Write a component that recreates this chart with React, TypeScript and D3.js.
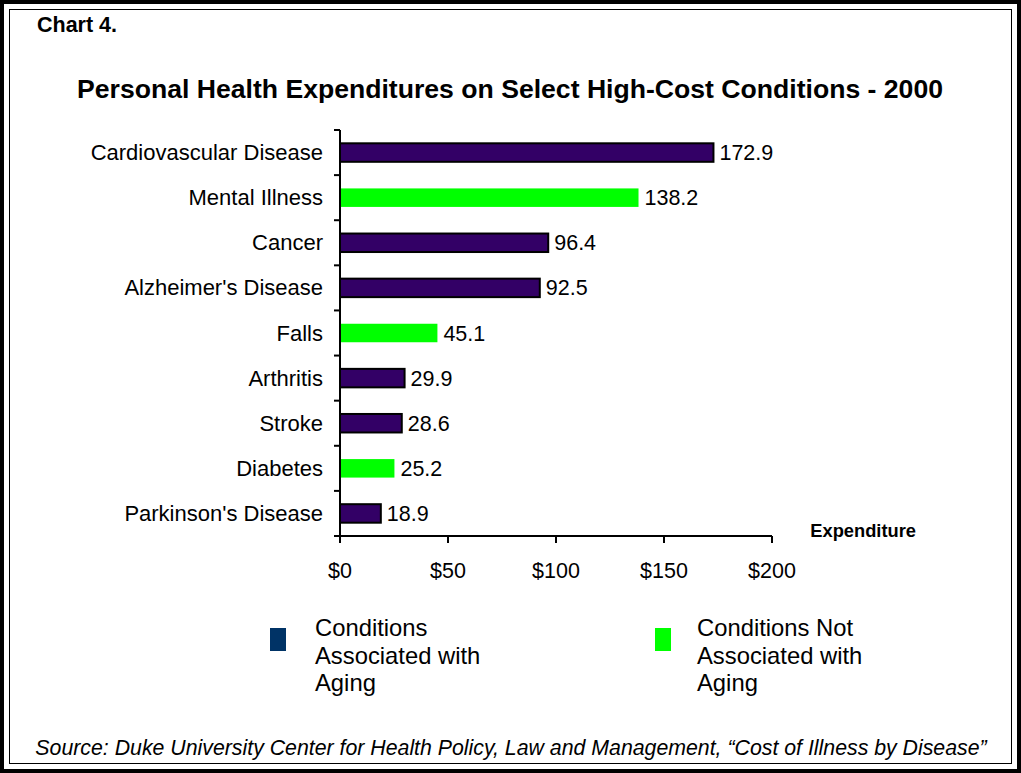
import React from "react";
import * as d3 from "d3";

const categories = [
  "Cardiovascular Disease",
  "Mental Illness",
  "Cancer",
  "Alzheimer's Disease",
  "Falls",
  "Arthritis",
  "Stroke",
  "Diabetes",
  "Parkinson's Disease",
];
const values = [172.9, 138.2, 96.4, 92.5, 45.1, 29.9, 28.6, 25.2, 18.9];
const agingFlags = [true, false, true, true, false, true, true, false, true];
const xTicks = [0, 50, 100, 150, 200];
const legendItems = [
  { lines: ["Conditions", "Associated with", "Aging"], color: "#003366" },
  { lines: ["Conditions Not", "Associated with", "Aging"], color: "#00FF00" },
];

const W = 1021;
const H = 773;
const FONT = "'Liberation Sans', Arial, sans-serif";

export default function App() {
  const x = d3.scaleLinear().domain([0, 200]).range([340, 772]);
  const y = d3.scaleBand<string>().domain(categories).range([130, 536]).paddingInner(0.59).paddingOuter(0.295);
  const bw = y.bandwidth();
  const step = y.step();
  const boundaries = d3.range(categories.length + 1).map((i) => 130 + i * step);

  return (
    <svg width={W} height={H} style={{ position: "absolute", left: 0, top: 0, background: "#fff" }} fontFamily={FONT}>
      <rect x={0} y={0} width={W} height={H} fill="#fff" />
      <rect x={2} y={2} width={W - 4} height={H - 4} fill="none" stroke="#000" strokeWidth={4} />
      <rect x={9.5} y={9.5} width={W - 19} height={H - 19} fill="none" stroke="#000" strokeWidth={1} />

      <text x={37} y={32} fontSize={21.5} fontWeight="bold">Chart 4.</text>
      <text x={510} y={98} fontSize={26.6} fontWeight="bold" textAnchor="middle">
        Personal Health Expenditures on Select High-Cost Conditions - 2000
      </text>

      {/* bars */}
      {categories.map((c, i) => (
        <g key={c}>
          <rect
            x={x(0)}
            y={y(c)!}
            width={x(values[i]) - x(0)}
            height={bw}
            fill={agingFlags[i] ? "#330066" : "#00FF00"}
            stroke={agingFlags[i] ? "#000" : "none"}
            strokeWidth={2}
          />
          <text x={x(values[i]) + 6} y={y(c)! + bw / 2 + 7.5} fontSize={21.5}>
            {values[i].toFixed(1)}
          </text>
          <text x={323} y={y(c)! + bw / 2 + 7.5} fontSize={22} textAnchor="end">
            {c}
          </text>
        </g>
      ))}

      {/* y axis */}
      <line x1={340} x2={340} y1={130} y2={536} stroke="#000" strokeWidth={2} />
      {boundaries.map((b, i) => (
        <line key={i} x1={334} x2={340} y1={b} y2={b} stroke="#000" strokeWidth={2} />
      ))}

      {/* x axis */}
      <line x1={x(0)} x2={x(200)} y1={536} y2={536} stroke="#000" strokeWidth={2} />
      {xTicks.map((t) => (
        <g key={t}>
          <line x1={x(t)} x2={x(t)} y1={536} y2={543} stroke="#000" strokeWidth={2} />
          <text x={x(t)} y={578} fontSize={21.5} textAnchor="middle">${t}</text>
        </g>
      ))}
      <text x={916} y={537} fontSize={18.3} fontWeight="bold" textAnchor="end">Expenditure</text>

      {/* legend */}
      {legendItems.map((item, k) => {
        const sx = k === 0 ? 270 : 655;
        const tx = k === 0 ? 315 : 697;
        return (
          <g key={k}>
            <rect x={sx} y={628} width={16} height={23} fill={item.color} />
            {item.lines.map((ln, j) => (
              <text key={j} x={tx} y={636 + j * 27.5} fontSize={23.8}>{ln}</text>
            ))}
          </g>
        );
      })}

      <text x={511} y={755} fontSize={21.3} fontStyle="italic" textAnchor="middle">
        Source:  Duke University Center for Health Policy, Law and Management, “Cost of Illness by Disease”
      </text>
    </svg>
  );
}
